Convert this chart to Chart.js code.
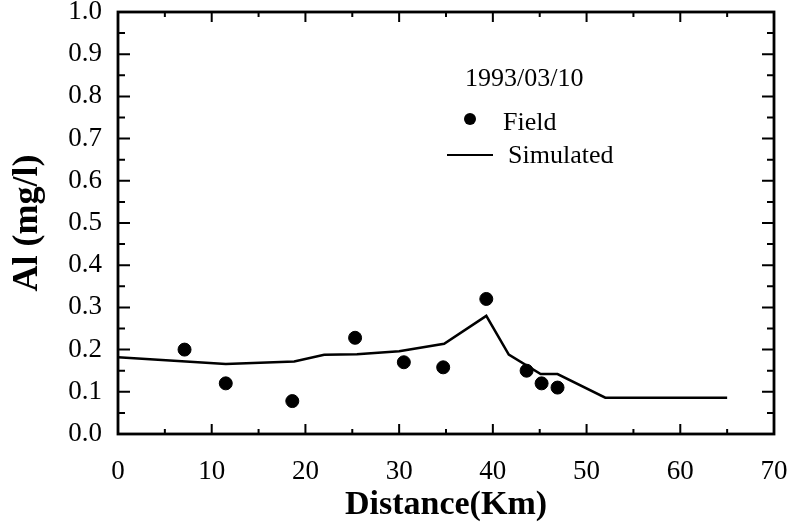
<!DOCTYPE html>
<html>
<head>
<meta charset="utf-8">
<script src="https://cdn.jsdelivr.net/npm/chart.js@4/dist/chart.umd.min.js"></script>
<style>
  body { margin: 0; background: #fff; }
  #wrap { width: 796px; height: 530px; }
</style>
</head>
<body>
<div id="wrap"><canvas id="chart" width="796" height="530"></canvas></div>
<script>
// Field measurements (distance km, Al mg/l)
const fieldX = [7.1, 11.5, 18.6, 25.3, 30.5, 34.7, 39.3, 43.6, 45.2, 46.9];
const fieldY = [0.20, 0.12, 0.078, 0.228, 0.17, 0.158, 0.32, 0.15, 0.12, 0.11];

// Simulated curve
const simX = [0, 11.5, 18.8, 22.0, 25.5, 30.0, 34.8, 39.3, 41.7, 45.1, 46.9, 52.0, 65.0];
const simY = [0.182, 0.166, 0.172, 0.188, 0.189, 0.196, 0.214, 0.280, 0.188, 0.142, 0.142, 0.086, 0.086];

const dateLabel = "1993/03/10";
const serif = "'Liberation Serif', 'Times New Roman', serif";

function pairs(xs, ys) {
    return xs.map((x, i) => ({ x: x, y: ys[i] }));
}

// draws the box and the inward ticks on all four sides
const frameTicks = {
    id: 'frameTicks',
    afterDraw(chart) {
        const ctx = chart.ctx;
        const a = chart.chartArea;
        const xs = chart.scales.x;
        const ys = chart.scales.y;
        ctx.save();
        ctx.strokeStyle = '#000';
        ctx.lineWidth = 2.8;
        ctx.strokeRect(a.left, a.top, a.right - a.left, a.bottom - a.top);
        ctx.lineWidth = 2;
        ctx.beginPath();
        for (let v = 0; v <= 70; v += 5) {
            const px = xs.getPixelForValue(v);
            const len = (v % 10 === 0) ? 10 : 5;
            ctx.moveTo(px, a.bottom); ctx.lineTo(px, a.bottom - len);
            ctx.moveTo(px, a.top); ctx.lineTo(px, a.top + len);
        }
        for (let i = 0; i <= 20; i++) {
            const py = ys.getPixelForValue(i * 0.05);
            const len = (i % 2 === 0) ? 12 : 7;
            ctx.moveTo(a.left, py); ctx.lineTo(a.left + len, py);
            ctx.moveTo(a.right, py); ctx.lineTo(a.right - len, py);
        }
        ctx.stroke();

        // legend
        ctx.fillStyle = '#000';
        ctx.font = '26px ' + serif;
        ctx.textBaseline = 'middle';
        ctx.textAlign = 'left';
        ctx.fillText(dateLabel, 465, 79);
        ctx.beginPath();
        ctx.arc(470, 119, 6, 0, Math.PI * 2);
        ctx.fill();
        ctx.fillText('Field', 503, 123);
        ctx.lineWidth = 2;
        ctx.beginPath();
        ctx.moveTo(447, 155); ctx.lineTo(493, 155);
        ctx.stroke();
        ctx.fillText('Simulated', 508, 156);
        ctx.restore();
    }
};

new Chart(document.getElementById('chart'), {
    type: 'scatter',
    data: {
        datasets: [
            {
                label: 'Field',
                data: pairs(fieldX, fieldY),
                backgroundColor: '#000',
                borderColor: '#000',
                pointRadius: 6.5,
                pointHoverRadius: 6.5
            },
            {
                label: 'Simulated',
                data: pairs(simX, simY),
                showLine: true,
                borderColor: '#000',
                borderWidth: 2.5,
                pointRadius: 0,
                tension: 0,
                fill: false
            }
        ]
    },
    options: {
        responsive: false,
        animation: false,
        layout: { padding: { top: 12, right: 22, left: 0, bottom: 0 } },
        plugins: {
            legend: { display: false },
            tooltip: { enabled: false }
        },
        scales: {
            x: {
                type: 'linear',
                min: 0,
                max: 70,
                grid: { display: false, drawTicks: false },
                border: { display: false },
                ticks: {
                    stepSize: 10,
                    padding: 22,
                    color: '#000',
                    font: { family: serif, size: 27 }
                },
                title: {
                    display: true,
                    text: 'Distance(Km)',
                    color: '#000',
                    padding: { top: 3 },
                    font: { family: serif, size: 34, weight: 'bold' }
                },
                afterFit(scale) {
                    scale.height = 96;
                    scale.paddingLeft = 0;
                    scale.paddingRight = 0;
                }
            },
            y: {
                min: 0,
                max: 1,
                grid: { display: false, drawTicks: false },
                border: { display: false },
                ticks: {
                    stepSize: 0.1,
                    padding: 16,
                    color: '#000',
                    font: { family: serif, size: 27 },
                    callback: (v) => v.toFixed(1)
                },
                title: {
                    display: true,
                    text: 'Al (mg/l)',
                    color: '#000',
                    padding: { top: 6, bottom: 0 },
                    font: { family: serif, size: 36, weight: 'bold' }
                },
                afterFit(scale) {
                    scale.width = 118;
                    scale.paddingTop = 0;
                    scale.paddingBottom = 0;
                }
            }
        }
    },
    plugins: [frameTicks]
});
</script>
</body>
</html>
